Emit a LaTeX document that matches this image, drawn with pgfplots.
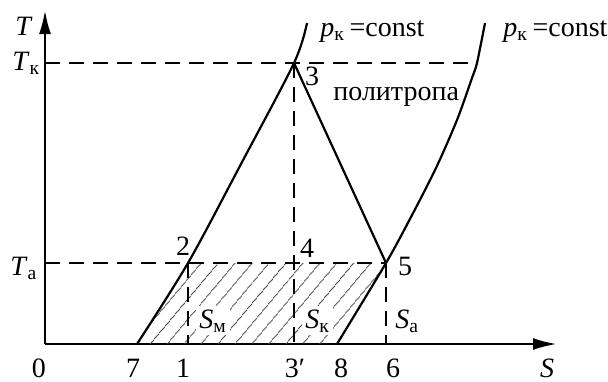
\documentclass[border=0pt]{standalone}
\usepackage{fontspec}
\setmainfont{Liberation Serif}
\usepackage{pgfplots}
\pgfplotsset{compat=1.18}
\usetikzlibrary{arrows.meta,patterns.meta}

\newcommand{\lbl}{\fontsize{14}{16}\selectfont}
\tikzset{
  guide/.style={black, line width=1.2pt, dash pattern=on 7.5pt off 4.5pt},
  curve/.style={black, line width=1.1pt},
  lab/.style={inner sep=0pt, font=\lbl},
}

\begin{document}
\begin{tikzpicture}
\useasboundingbox (-22.5pt,-18.5pt) rectangle (281.5pt,172pt);
\begin{axis}[
  at={(0pt,0pt)}, anchor=south west,
  scale only axis, width=256pt, height=167pt,
  xmin=0, xmax=512, ymin=0, ymax=334,
  axis lines=left, xtick=\empty, ytick=\empty,
  axis line style={line width=1.3pt, -{Latex[length=12pt,width=6pt]}},
  clip=false]

% hatched area 7-2-5-8
\addplot[draw=none, pattern={Lines[angle=50,distance=6.5pt,line width=0.45pt]},
         pattern color=black!70] coordinates {(92,0)(143,81)(341,81)(292,0)} -- cycle;

% guide lines
\addplot[guide] coordinates {(0,281)(431,281)};
\addplot[guide] coordinates {(0,81)(341,81)};
\addplot[guide] coordinates {(143,81)(143,0)};
\addplot[guide] coordinates {(249,281)(249,0)};
\addplot[guide] coordinates {(341,81)(341,0)};

% p_k = const curves and polytrope
\addplot[curve, smooth, tension=0.5] coordinates {(92,0)(143,81)(196,180)(249,281)(262,321)};
\addplot[curve, smooth, tension=0.45] coordinates {(292,0)(341,81)(366,127)(391,176)(412,224)(427,266)(432,281)(440,321)};
\addplot[curve] coordinates {(249,281)(341,81)};

% axis labels
\node[lab, anchor=base west] at (-30,309) {\textit{T}};
\node[lab, anchor=base west] at (-33,274) {\textit{T}\textsubscript{к}};
\node[lab, anchor=base west] at (-35,69) {\textit{T}\textsubscript{a}};
\node[lab, anchor=base] at (502,-33) {\textit{S}};

% abscissa marks
\node[lab, anchor=base] at (-6,-33) {0};
\node[lab, anchor=base] at (88,-33) {7};
\node[lab, anchor=base] at (138,-33) {1};
\node[lab, anchor=base] at (250,-33) {3′};
\node[lab, anchor=base] at (296,-33) {8};
\node[lab, anchor=base] at (348,-33) {6};

% state points
\node[lab, anchor=base] at (138,89) {2};
\node[lab, anchor=base] at (262,87) {4};
\node[lab, anchor=base] at (360,69) {5};
\node[lab, anchor=base] at (267,259) {3};

% areas
\node[lab, anchor=base west, fill=white, inner sep=1.5pt] at (151,16) {\textit{S}\textsubscript{м}};
\node[lab, anchor=base west, fill=white, inner sep=1.5pt] at (257,16) {\textit{S}\textsubscript{к}};
\node[lab, anchor=base west] at (350,16) {\textit{S}\textsubscript{a}};

% curve names
\node[lab, anchor=base west] at (275,308) {\textit{p}\textsubscript{к}\,=const};
\node[lab, anchor=base west] at (458,308) {\textit{p}\textsubscript{к}\,=const};
\node[lab, anchor=base west] at (288,244) {политропа};
\end{axis}
\end{tikzpicture}
\end{document}
